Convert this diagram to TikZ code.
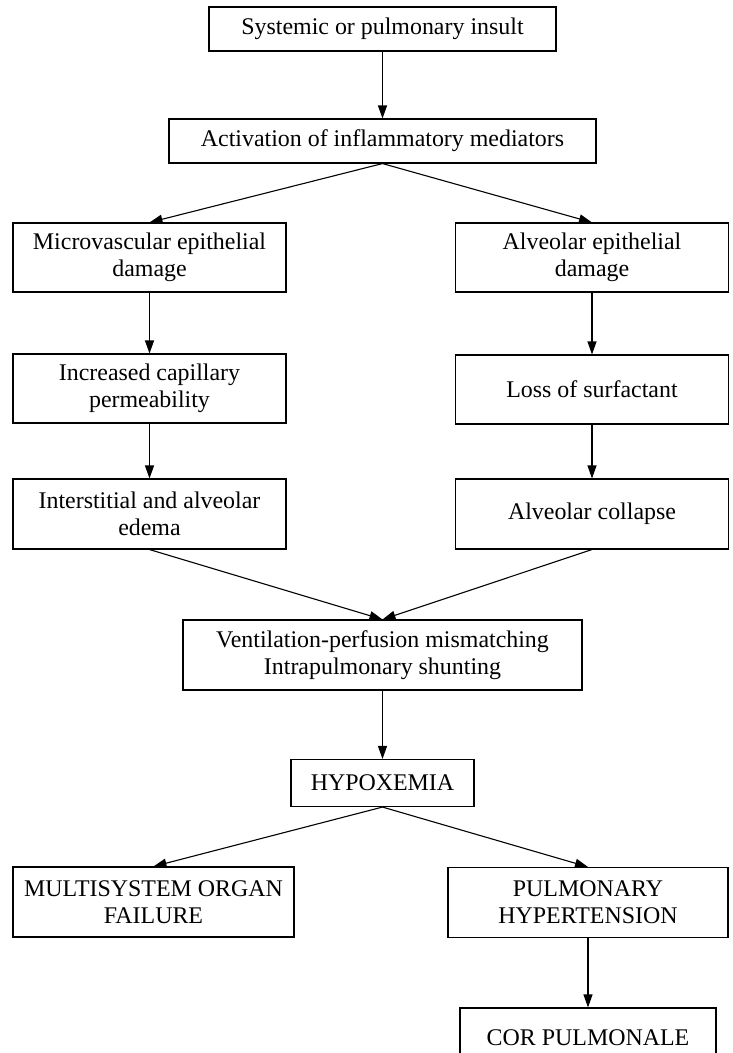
\documentclass[tikz,border=0pt]{standalone}
\usepackage{fontspec}
\setmainfont{Liberation Serif}
\usetikzlibrary{arrows.meta}
\begin{document}
\begin{tikzpicture}[x=1bp,y=-1bp,
  box/.style={draw,line width=1.1bp,rectangle,inner sep=0pt,align=center,
    font=\fontsize{24}{27}\selectfont},
  wide/.style={minimum width=273bp,minimum height=69bp},
  arr/.style={line width=1.1bp,-{Triangle[length=13bp,width=9bp]}}]
\useasboundingbox (0,0) rectangle (733,1053);
\node[box,minimum width=347bp,minimum height=44bp] (sys) at (382.5,29) {Systemic or pulmonary insult};
\node[box,minimum width=427bp,minimum height=44bp] (act) at (382.5,141) {Activation of inflammatory mediators};
\node[box,wide] (micro) at (149.5,257.5) {Microvascular epithelial\\damage};
\node[box,wide] (alv) at (592,257.5) {Alveolar epithelial\\damage};
\node[box,wide] (incr) at (149.5,388.5) {Increased capillary\\permeability};
\node[box,wide] (loss) at (592,389.5) {Loss of surfactant};
\node[box,wide,minimum height=70bp] (inter) at (149.5,514) {Interstitial and alveolar\\edema};
\node[box,wide,minimum height=70bp] (coll) at (592,514) {Alveolar collapse};
\node[box,minimum width=399bp,minimum height=70bp] (vent) at (382.5,655) {Ventilation-perfusion mismatching\\Intrapulmonary shunting};
\node[box,minimum width=183bp,minimum height=47bp] (hypo) at (382.5,783) {HYPOXEMIA};
\node[box,minimum width=281bp,minimum height=70bp] (multi) at (153.5,902) {MULTISYSTEM ORGAN\\FAILURE};
\node[box,minimum width=280bp,minimum height=70bp] (pulm) at (588,902.5) {PULMONARY\\HYPERTENSION};
\node[box,minimum width=256bp,minimum height=60bp] (cor) at (588,1038) {COR PULMONALE};
\draw[arr] (sys.south) -- (act.north);
\draw[arr] (act.south) -- (micro.north);
\draw[arr] (act.south) -- (alv.north);
\draw[arr] (micro.south) -- (incr.north);
\draw[arr] (incr.south) -- (inter.north);
\draw[arr] (alv.south) -- (loss.north);
\draw[arr] (loss.south) -- (coll.north);
\draw[arr] (inter.south) -- (vent.north);
\draw[arr] (coll.south) -- (vent.north);
\draw[arr] (vent.south) -- (hypo.north);
\draw[arr] (hypo.south) -- (multi.north);
\draw[arr] (hypo.south) -- (pulm.north);
\draw[arr] (pulm.south) -- (cor.north);
\end{tikzpicture}
\end{document}
